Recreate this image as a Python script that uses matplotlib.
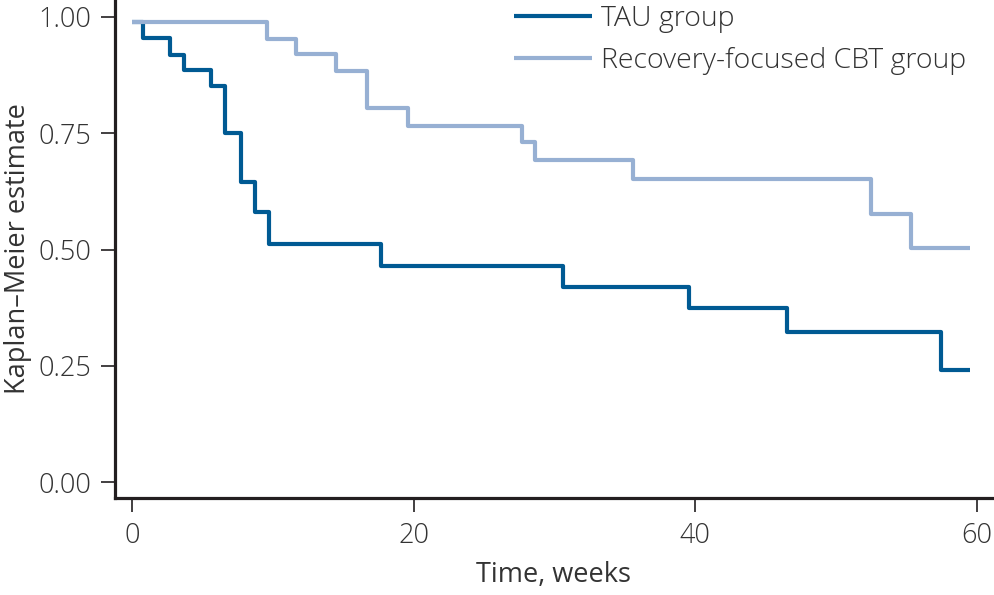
import matplotlib
matplotlib.use("Agg")
import matplotlib.pyplot as plt

# step data (time in weeks, KM estimate)
tau_time = [0, 0.75, 2.65, 3.7, 5.6, 6.6, 7.7, 8.7, 9.7, 17.7, 30.6, 39.6, 46.5, 57.5, 59.5]
tau_surv = [0.988, 0.955, 0.918, 0.885, 0.852, 0.750, 0.646, 0.580, 0.512, 0.465, 0.420, 0.375, 0.322, 0.241, 0.241]

cbt_time = [0, 9.55, 11.6, 14.5, 16.7, 19.6, 27.7, 28.6, 35.6, 52.5, 55.35, 59.5]
cbt_surv = [0.988, 0.953, 0.919, 0.883, 0.805, 0.766, 0.732, 0.692, 0.651, 0.576, 0.503, 0.503]

xticks = [0, 20, 40, 60]
yticks = [0.0, 0.25, 0.5, 0.75, 1.0]

plt.rcParams['font.family'] = ['Open Sans', 'DejaVu Sans']
plt.rcParams['font.weight'] = 'light'
txt = '#333333'
fs = 19.5

fig = plt.figure(figsize=(9.95, 5.95), dpi=100)
ax = fig.add_axes([115 / 995, 97 / 595, 878 / 995, 498 / 595])

ax.step(tau_time, tau_surv, where='post', color='#005A93', lw=3.0,
        label='TAU group', solid_capstyle='butt')
ax.step(cbt_time, cbt_surv, where='post', color='#97B0D3', lw=3.0,
        label='Recovery-focused CBT group', solid_capstyle='butt')

ax.set_xlim(-1.23, 61.17)
ax.set_ylim(-0.0337, 1.036)
ax.set_xticks(xticks)
ax.set_xticklabels([str(t) for t in xticks])
ax.set_yticks(yticks)
ax.set_yticklabels(['%.2f' % t for t in yticks])

for s in ['top', 'right']:
    ax.spines[s].set_visible(False)
for s in ['left', 'bottom']:
    ax.spines[s].set_linewidth(2.3)
    ax.spines[s].set_color('#231f20')
ax.tick_params(length=10, width=1.2, color='#231f20', labelsize=fs,
               labelcolor=txt, pad=7)

ax.set_xlabel('Time, weeks', fontsize=fs, color=txt, labelpad=8)
ax.set_ylabel('Kaplan–Meier estimate', fontsize=fs, color=txt, labelpad=5)

ax.legend(loc='upper left', bbox_to_anchor=(488 / 995, 1.0 + 21 / 595),
          bbox_transform=fig.transFigure, frameon=False, fontsize=20.5,
          handlelength=2.75, handletextpad=0.33, labelspacing=0.5,
          labelcolor=txt)

fig.savefig('out.png', dpi=100)
